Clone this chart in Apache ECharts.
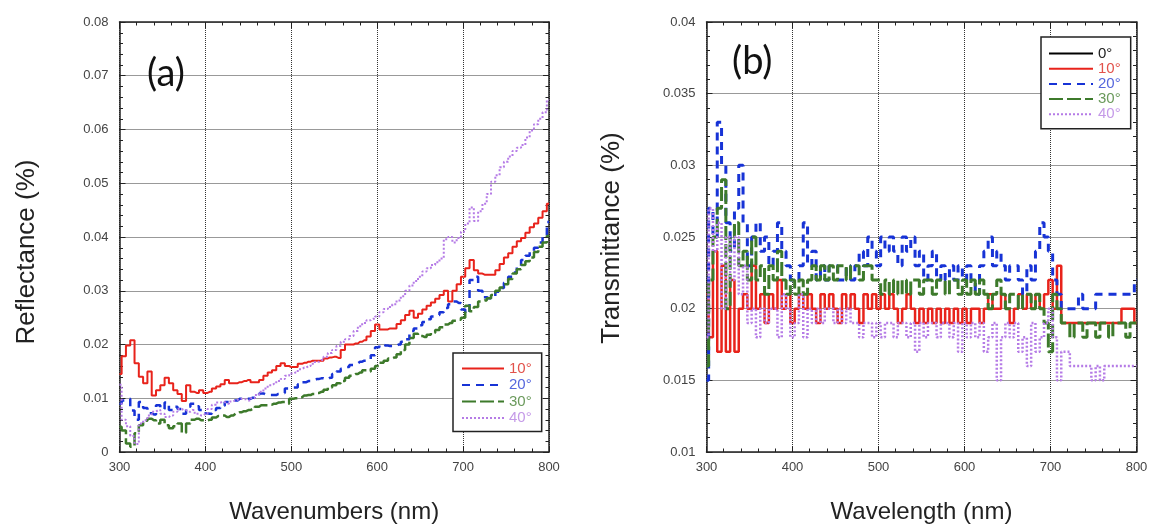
<!DOCTYPE html>
<html>
<head>
<meta charset="utf-8">
<script src="https://cdn.jsdelivr.net/npm/echarts@6/dist/echarts.min.js"></script>
<style>
html,body{margin:0;padding:0;background:#fff;}
#c{width:1154px;height:531px;}
</style>
</head>
<body>
<div id="c"></div>
<script>
// ---------- data ----------
// wavelengths (nm), 5 nm sampling, 300..800
var wavelengths = [300,305,310,315,320,325,330,335,340,345,350,355,360,365,370,375,380,385,390,395,
400,405,410,415,420,425,430,435,440,445,450,455,460,465,470,475,480,485,490,495,
500,505,510,515,520,525,530,535,540,545,550,555,560,565,570,575,580,585,590,595,
600,605,610,615,620,625,630,635,640,645,650,655,660,665,670,675,680,685,690,695,
700,705,710,715,720,725,730,735,740,745,750,755,760,765,770,775,780,785,790,795,800];

// (a) Reflectance
var refl10 = [0.0145,0.0178,0.0198,0.0208,0.0165,0.0140,0.0128,0.0150,0.0105,0.0115,0.0124,0.0138,0.0128,0.0115,0.0108,0.0095,0.0124,0.0112,0.0110,0.0115,
0.0110,0.0112,0.0118,0.0122,0.0126,0.0134,0.0128,0.0128,0.0130,0.0132,0.0134,0.0130,0.0130,0.0134,0.0142,0.0148,0.0152,0.0160,0.0165,0.0160,
0.0158,0.0158,0.0164,0.0166,0.0168,0.0170,0.0170,0.0170,0.0174,0.0176,0.0177,0.0175,0.0190,0.0200,0.0200,0.0202,0.0205,0.0208,0.0215,0.0225,
0.0237,0.0228,0.0228,0.0230,0.0230,0.0238,0.0245,0.0255,0.0263,0.0250,0.0257,0.0265,0.0272,0.0278,0.0285,0.0292,0.0300,0.0280,0.0300,0.0312,
0.0326,0.0342,0.0357,0.0338,0.0332,0.0330,0.0330,0.0330,0.0338,0.0350,0.0362,0.0370,0.0382,0.0392,0.0398,0.0408,0.0418,0.0425,0.0436,0.0448,0.0462];
var refl20 = [0.0090,0.0096,0.0099,0.0077,0.0060,0.0093,0.0082,0.0072,0.0070,0.0087,0.0080,0.0092,0.0078,0.0084,0.0080,0.0071,0.0084,0.0090,0.0085,0.0078,
0.0072,0.0071,0.0078,0.0082,0.0086,0.0093,0.0095,0.0096,0.0099,0.0099,0.0099,0.0101,0.0105,0.0109,0.0107,0.0106,0.0106,0.0108,0.0110,0.0118,
0.0120,0.0120,0.0126,0.0130,0.0132,0.0134,0.0136,0.0137,0.0135,0.0138,0.0145,0.0150,0.0155,0.0158,0.0162,0.0165,0.0168,0.0170,0.0172,0.0180,
0.0195,0.0200,0.0198,0.0197,0.0197,0.0200,0.0205,0.0210,0.0225,0.0230,0.0236,0.0242,0.0247,0.0252,0.0255,0.0260,0.0268,0.0275,0.0280,0.0277,
0.0265,0.0258,0.0320,0.0326,0.0300,0.0288,0.0286,0.0290,0.0298,0.0305,0.0315,0.0326,0.0334,0.0345,0.0357,0.0365,0.0372,0.0380,0.0390,0.0402,0.0428];
var refl30 = [0.0047,0.0040,0.0016,0.0010,0.0035,0.0050,0.0058,0.0062,0.0059,0.0053,0.0060,0.0050,0.0044,0.0048,0.0053,0.0036,0.0053,0.0060,0.0062,0.0059,
0.0059,0.0060,0.0064,0.0067,0.0068,0.0065,0.0068,0.0071,0.0074,0.0076,0.0078,0.0080,0.0084,0.0087,0.0087,0.0088,0.0090,0.0092,0.0093,0.0090,
0.0099,0.0100,0.0102,0.0105,0.0106,0.0108,0.0110,0.0112,0.0116,0.0120,0.0124,0.0128,0.0132,0.0138,0.0142,0.0145,0.0148,0.0152,0.0150,0.0155,
0.0160,0.0166,0.0170,0.0174,0.0176,0.0182,0.0190,0.0200,0.0212,0.0220,0.0216,0.0214,0.0218,0.0222,0.0227,0.0232,0.0237,0.0240,0.0244,0.0246,
0.0250,0.0272,0.0262,0.0270,0.0280,0.0282,0.0286,0.0292,0.0300,0.0306,0.0312,0.0322,0.0332,0.0340,0.0348,0.0355,0.0362,0.0372,0.0382,0.0390,0.0402];
var refl40 = [0.0125,0.0060,0.0048,0.0030,0.0015,0.0053,0.0059,0.0068,0.0075,0.0078,0.0071,0.0065,0.0068,0.0075,0.0080,0.0078,0.0075,0.0078,0.0071,0.0068,
0.0071,0.0080,0.0088,0.0092,0.0093,0.0090,0.0094,0.0097,0.0099,0.0098,0.0096,0.0100,0.0106,0.0112,0.0118,0.0124,0.0127,0.0132,0.0136,0.0142,
0.0146,0.0148,0.0154,0.0157,0.0160,0.0164,0.0168,0.0171,0.0177,0.0184,0.0190,0.0197,0.0205,0.0210,0.0216,0.0225,0.0234,0.0240,0.0245,0.0248,
0.0252,0.0260,0.0266,0.0270,0.0275,0.0282,0.0290,0.0300,0.0310,0.0318,0.0326,0.0336,0.0342,0.0348,0.0353,0.0360,0.0396,0.0400,0.0390,0.0398,
0.0410,0.0425,0.0455,0.0430,0.0448,0.0462,0.0480,0.0503,0.0515,0.0530,0.0540,0.0550,0.0560,0.0566,0.0571,0.0585,0.0598,0.0610,0.0620,0.0632,0.0655];

// (b) Transmittance
var trans0 = []; // 0° trace lies hidden under the other traces
var trans10 = [.021,.018,.024,.017,.023,.017,.022,.017,.020,.021,.020,.023,.020,.021,.019,.021,.020,.022,.020,.021,
.019,.020,.021,.020,.021,.020,.019,.021,.020,.021,.020,.019,.021,.020,.021,.020,.019,.021,.020,.021,
.020,.021,.020,.021,.020,.019,.020,.021,.020,.019,.020,.019,.020,.019,.020,.019,.020,.019,.020,.019,
.020,.019,.020,.020,.019,.020,.021,.020,.020,.021,.020,.019,.020,.021,.020,.021,.020,.021,.020,.021,
.022,.020,.023,.019,.019,.019,.019,.019,.019,.019,.019,.019,.019,.019,.019,.019,.019,.020,.020,.020,.019];
var trans20 = [.015,.027,.025,.033,.030,.026,.024,.027,.030,.026,.023,.025,.026,.024,.025,.023,.024,.026,.024,.023,
.022,.022,.023,.026,.023,.024,.022,.023,.022,.023,.023,.022,.022,.023,.022,.023,.024,.023,.025,.024,
.023,.025,.024,.025,.024,.023,.025,.024,.025,.023,.024,.022,.023,.024,.022,.023,.022,.023,.022,.023,
.022,.023,.022,.021,.023,.024,.025,.023,.024,.023,.022,.023,.023,.022,.021,.023,.022,.024,.026,.025,
.024,.022,.021,.020,.020,.020,.020,.021,.020,.020,.020,.021,.021,.021,.021,.021,.021,.021,.021,.021,.022];
var trans30 = [.016,.022,.025,.027,.029,.020,.025,.026,.023,.024,.022,.025,.022,.023,.021,.023,.022,.024,.022,.021,
.022,.021,.022,.021,.022,.023,.022,.023,.022,.023,.022,.023,.023,.022,.023,.023,.022,.023,.023,.022,
.022,.021,.022,.021,.022,.021,.022,.021,.022,.022,.021,.022,.022,.021,.022,.022,.021,.022,.022,.021,
.022,.021,.022,.021,.022,.021,.020,.021,.022,.021,.020,.021,.021,.020,.021,.021,.020,.021,.020,.019,
.017,.021,.020,.019,.019,.018,.019,.019,.018,.019,.019,.018,.019,.019,.018,.019,.019,.019,.018,.019,.019];
var trans40 = [.018,.027,.024,.026,.020,.025,.022,.025,.021,.023,.019,.020,.018,.020,.019,.020,.020,.018,.021,.020,
.018,.019,.021,.018,.020,.019,.020,.019,.020,.020,.019,.020,.019,.020,.019,.019,.018,.019,.019,.018,
.019,.018,.019,.019,.018,.019,.019,.018,.019,.017,.019,.018,.019,.019,.018,.019,.019,.018,.019,.017,
.019,.018,.019,.018,.019,.017,.018,.019,.015,.018,.019,.018,.019,.017,.018,.016,.019,.017,.018,.019,
.020,.018,.015,.017,.017,.016,.016,.016,.016,.016,.015,.016,.015,.016,.016,.016,.016,.016,.016,.016,.016];

var namesA = ['10°','20°','30°','40°'];
var namesB = ['0°','10°','20°','30°','40°'];

// ---------- styles ----------
var FONT = 'Liberation Sans, Arial, sans-serif';
var styles = {
  '0°':  {color:'#000000', type:'solid', width:2, text:'#222222'},
  '10°': {color:'#e8231b', type:'solid', width:2, text:'#e2524b'},
  '20°': {color:'#1733d6', type:[8,6], width:2.5, text:'#5566dd'},
  '30°': {color:'#3d7a2b', type:[14,4], width:2.5, text:'#6b9a5c'},
  '40°': {color:'#b57be6', type:[2,2], width:2, text:'#c59ae8'}
};

function pairs(arr){ return arr.map(function(v,i){ return [wavelengths[i], v]; }); }

function mkSeries(name, arr, idx){
  var s = styles[name];
  var w = idx === 1 ? s.width + 0.5 : s.width;
  return {
    name: name, type:'line', xAxisIndex: idx*2, yAxisIndex: idx*2,
    data: pairs(arr), step:'middle', symbol:'none', showSymbol:false,
    color: s.color,
    lineStyle:{color:s.color, width:w, type:s.type},
    animation:false, z: 3
  };
}

function xAx(gi, pos, showLabel, title){
  return {
    type:'value', gridIndex:gi, position:pos, min:300, max:800, interval:100,
    axisLine:{show:true, onZero:false, lineStyle:{color:'#222', width:1.5}},
    axisTick:{show:true, inside:true, length:6, lineStyle:{color:'#222', width:1}},
    minorTick:{show:true, splitNumber:5, length:3.5, lineStyle:{color:'#222', width:1}},
    axisLabel:{show:showLabel, color:'#444', fontSize:13, fontFamily:FONT, margin:9},
    splitLine:{show:showLabel, lineStyle:{color:'#333', width:1, type:[1,1]}},
    minorSplitLine:{show:false},
    name: title || '', nameLocation:'middle', nameGap:48,
    nameTextStyle:{fontSize:24, color:'#222', fontFamily:FONT}
  };
}
function yAx(gi, pos, showLabel, min, max, interval){
  return {
    type:'value', gridIndex:gi, position:pos, min:min, max:max, interval:interval,
    axisLine:{show:true, onZero:false, lineStyle:{color:'#222', width:1.5}},
    axisTick:{show:true, inside:true, length:6, lineStyle:{color:'#222', width:1}},
    minorTick:{show:true, splitNumber:5, length:3.5, lineStyle:{color:'#222', width:1}},
    axisLabel:{show:showLabel, color:'#444', fontSize:13, fontFamily:FONT, margin:11},
    splitLine:{show:showLabel, lineStyle:{color:'#333', width:1, type:[1,1]}}
  };
}

function legendData(names){
  return names.map(function(n){ return {name:n, textStyle:{color:styles[n].text}}; });
}

var chart = echarts.init(document.getElementById('c'), null, {renderer:'canvas'});
var option = {
  backgroundColor:'#ffffff',
  animation:false,
  grid:[
    {left:119.5, top:22, width:429.5, height:430, containLabel:false},
    {left:706.5, top:22, width:430, height:430, containLabel:false}
  ],
  title:[
    {text:'(a)', left:142, top:50, textStyle:{fontSize:38, fontWeight:'normal', color:'#111', fontFamily:'Lato, sans-serif'}},
    {text:'(b)', left:727, top:38, textStyle:{fontSize:38, fontWeight:'normal', color:'#111', fontFamily:'Lato, sans-serif'}}
  ],
  graphic:[
    {type:'text', x:27, y:252, rotation:Math.PI/2,
     style:{text:'Reflectance (%)', fontSize:26, fill:'#222', fontFamily:FONT, align:'center', verticalAlign:'middle'}},
    {type:'text', x:612, y:238, rotation:Math.PI/2,
     style:{text:'Transmittance (%)', fontSize:26, fill:'#222', fontFamily:FONT, align:'center', verticalAlign:'middle'}}
  ],
  xAxis:[
    xAx(0,'bottom',true,'Wavenumbers (nm)'), xAx(0,'top',false),
    xAx(1,'bottom',true,'Wavelength (nm)'), xAx(1,'top',false)
  ],
  yAxis:[
    yAx(0,'left',true,0,0.08,0.01), yAx(0,'right',false,0,0.08,0.01),
    yAx(1,'left',true,0.01,0.04,0.005), yAx(1,'right',false,0.01,0.04,0.005)
  ],
  legend:[
    {data:legendData(namesA), orient:'vertical', left:453, top:353, align:'left',
     itemWidth:42, itemHeight:12, itemGap:1.5, padding:[8,10,6,8],
     itemStyle:{opacity:0},
     borderColor:'#222', borderWidth:1.5, backgroundColor:'#fff',
     textStyle:{fontSize:15, fontFamily:FONT}, selectedMode:false},
    {data:legendData(namesB), orient:'vertical', left:1041, top:37, align:'left',
     itemWidth:44, itemHeight:12, itemGap:0.2, padding:[9,10,7,7],
     itemStyle:{opacity:0},
     borderColor:'#222', borderWidth:1.5, backgroundColor:'#fff',
     textStyle:{fontSize:15, fontFamily:FONT}, selectedMode:false}
  ],
  series:[
    mkSeries('10°', refl10, 0),
    mkSeries('20°', refl20, 0),
    mkSeries('30°', refl30, 0),
    mkSeries('40°', refl40, 0),
    mkSeries('0°',  trans0, 1),
    mkSeries('10°', trans10, 1),
    mkSeries('20°', trans20, 1),
    mkSeries('30°', trans30, 1),
    mkSeries('40°', trans40, 1)
  ]
};
chart.setOption(option);
</script>
</body>
</html>
